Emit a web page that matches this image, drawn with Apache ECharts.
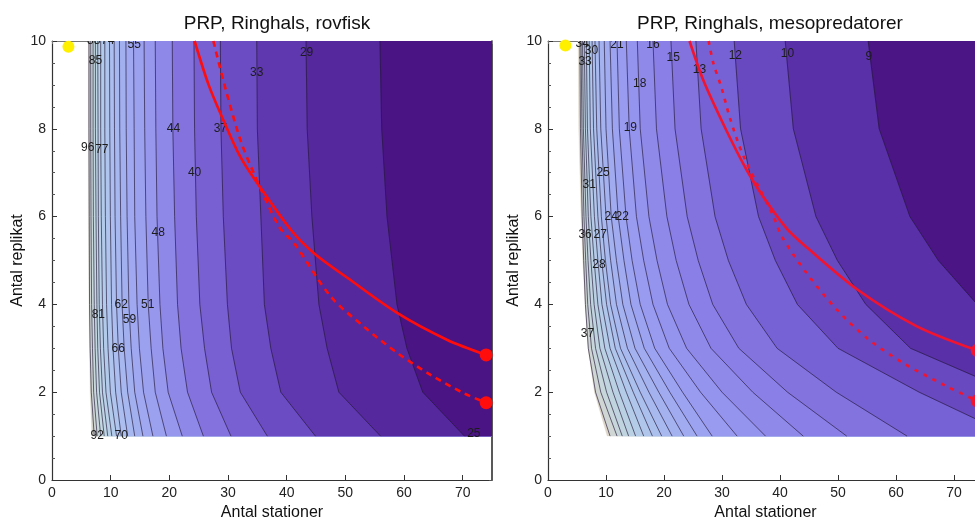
<!DOCTYPE html>
<html><head><meta charset="utf-8">
<script src="https://cdn.jsdelivr.net/npm/echarts@6/dist/echarts.min.js"></script>
<style>html,body{margin:0;padding:0;background:#fff}#c{width:975px;height:521px}</style>
</head><body><div id="c"></div>
<script>
// ---------- data: left panel (rovfisk) ----------
const leftY = [10, 8, 6, 4, 3, 2, 1];
const leftLevels = [96, 92, 88, 85, 81, 77, 74, 70, 66, 62, 59, 55, 51, 48, 44, 40, 37, 33, 29, 25];
// x of each contour at the heights in leftY
const leftContours = [
  [6.3, 6.3, 6.35, 6.4, 6.5, 6.7, 7.2],
  [6.6, 6.6, 6.65, 6.75, 6.9, 7.1, 7.7],
  [7.0, 7.0, 7.05, 7.2, 7.35, 7.6, 8.3],
  [7.4, 7.4, 7.5, 7.65, 7.8, 8.1, 8.9],
  [7.8, 7.85, 7.9, 8.05, 8.25, 8.6, 9.5],
  [8.3, 8.3, 8.4, 8.6, 8.8, 9.2, 10.2],
  [9.0, 9.0, 9.1, 9.3, 9.55, 9.95, 11.0],
  [9.8, 9.85, 9.95, 10.15, 10.4, 10.85, 11.8],
  [10.6, 10.65, 10.75, 11.0, 11.3, 11.8, 12.9],
  [11.5, 11.55, 11.7, 11.95, 12.3, 12.9, 14.1],
  [12.6, 12.65, 12.8, 13.1, 13.5, 14.1, 15.5],
  [13.9, 14.0, 14.1, 14.5, 14.9, 15.6, 17.2],
  [15.7, 15.8, 16.0, 16.4, 16.9, 17.6, 19.5],
  [17.6, 17.7, 17.9, 18.4, 18.9, 19.8, 22.2],
  [20.5, 20.6, 20.9, 21.4, 22.0, 23.1, 25.8],
  [24.2, 24.3, 24.6, 25.2, 26.0, 27.2, 30.5],
  [28.7, 28.8, 29.2, 29.9, 30.6, 32.1, 36.7],
  [34.9, 35.0, 35.6, 36.2, 37.3, 39.0, 44.9],
  [43.3, 43.5, 44.3, 45.5, 46.9, 48.9, 56.0],
  [55.9, 56.2, 57.1, 58.8, 60.5, 63.2, 70.3]
];
const leftEdge = [6.2, 6.2, 6.2, 6.3, 6.4, 6.5, 6.8];
const leftLabels = [
  ['88', 7.1, 10.0], ['74', 9.5, 10.0], ['55', 14.0, 9.92], ['85', 7.4, 9.55],
  ['96', 6.1, 7.56], ['77', 8.5, 7.52], ['44', 20.7, 8.0], ['37', 28.7, 8.0],
  ['40', 24.3, 7.0], ['48', 18.1, 5.64], ['33', 34.9, 9.27], ['29', 43.4, 9.74],
  ['81', 7.9, 3.76], ['62', 11.8, 4.0], ['59', 13.2, 3.66], ['51', 16.3, 3.99],
  ['66', 11.3, 2.99], ['92', 7.7, 1.0], ['70', 11.8, 1.0], ['25', 71.9, 1.05]
];
const leftSolid = [[24.3, 10], [26.7, 9], [29.2, 8.2], [32.1, 7.36], [35, 6.76], [40.7, 5.7], [44.7, 5.16], [50.4, 4.6], [58.9, 3.8], [67.4, 3.19], [74, 2.85]];
const leftDashed = [[27.5, 10], [29.6, 8.9], [32.1, 7.75], [34.4, 6.99], [38.7, 5.77], [41.3, 5.39], [47.5, 4.18], [53.2, 3.49], [58.9, 2.89], [64.6, 2.39], [70.3, 1.97], [74, 1.76]];
const leftEndPoints = [[74, 2.85], [74, 1.76]];
const leftYellow = [[2.8, 9.87]];

// ---------- data: right panel (mesopredatorer) ----------
const rightY = [10, 8, 6, 5, 4, 3, 2, 1];
const rightLevels = [37, 36, 34, 33, 31, 30, 28, 27, 25, 24, 22, 21, 19, 18, 16, 15, 13, 12, 10, 9];
const rightContours = [
  [5.5, 5.6, 5.9, 6.15, 6.45, 6.95, 8.2, 10.7],
  [5.7, 5.85, 6.2, 6.5, 6.85, 7.5, 9.1, 11.9],
  [5.95, 6.1, 6.55, 6.9, 7.35, 8.2, 10.1, 12.8],
  [6.25, 6.45, 6.95, 7.4, 7.95, 8.95, 11.2, 13.9],
  [6.6, 6.8, 7.4, 7.95, 8.6, 9.8, 12.3, 15.1],
  [7.1, 7.3, 8.0, 8.6, 9.3, 10.7, 13.5, 16.5],
  [7.6, 7.85, 8.6, 9.25, 10.1, 11.6, 14.7, 18.0],
  [8.1, 8.4, 9.2, 9.9, 10.8, 12.5, 15.9, 19.6],
  [8.8, 9.1, 10.0, 10.8, 11.8, 13.7, 17.4, 21.4],
  [9.7, 10.0, 10.9, 11.8, 12.9, 15.0, 19.1, 23.4],
  [10.7, 11.1, 12.1, 13.1, 14.3, 16.6, 21.0, 25.7],
  [11.9, 12.3, 13.45, 14.5, 15.9, 18.4, 23.2, 28.3],
  [13.5, 14.0, 15.25, 16.5, 18.1, 20.9, 26.3, 32.6],
  [15.4, 15.9, 17.4, 18.8, 20.6, 23.9, 30.0, 37.5],
  [18.1, 18.7, 20.5, 22.1, 24.3, 28.1, 35.3, 44.0],
  [21.2, 21.9, 24.0, 25.9, 28.4, 32.9, 41.3, 51.5],
  [25.5, 26.4, 28.8, 31.1, 34.2, 39.5, 49.7, 61.9],
  [32.1, 33.2, 36.3, 39.2, 43.0, 50.0, 64.0, 80.0],
  [40.9, 42.3, 46.2, 49.9, 54.8, 62.5, 80.0, 100.0],
  [55.2, 57.1, 62.4, 67.3, 74.0, 86.0, 108.0, 135.0]
];
const rightEdge = [5.2, 5.3, 5.7, 6.0, 6.4, 6.9, 8.0, 10.2];
const rightLabels = [
  ['34', 5.9, 9.95], ['30', 7.5, 9.79], ['33', 6.4, 9.54], ['21', 11.9, 9.92],
  ['16', 18.1, 9.92], ['15', 21.6, 9.63], ['13', 26.1, 9.35], ['12', 32.3, 9.67],
  ['10', 41.3, 9.7], ['9', 55.3, 9.65], ['18', 15.8, 9.03], ['19', 14.2, 8.03],
  ['25', 9.5, 7.0], ['31', 7.1, 6.73], ['24', 10.9, 6.0], ['22', 12.8, 6.0],
  ['36', 6.4, 5.59], ['27', 9.0, 5.59], ['28', 8.8, 4.9], ['37', 6.8, 3.33]
];
const rightSolid = [[24.4, 10], [26.8, 9.1], [30.8, 7.95], [34.3, 7.05], [37.1, 6.45], [41.2, 5.72], [44.6, 5.3], [53.2, 4.35], [63.6, 3.5], [74, 2.95]];
const rightDashed = [[27.7, 10], [28.5, 9.5], [30, 8.9], [31.4, 8.23], [33.7, 7.38], [38.9, 6.0], [40.3, 5.55], [44.6, 4.71], [49.8, 3.88], [55, 3.23], [61.3, 2.66], [68.2, 2.17], [74, 1.8]];
const rightEndPoints = [[74, 2.95], [74, 1.8]];
const rightYellow = [[3.0, 9.9]];

const xTicks = [0, 10, 20, 30, 40, 50, 60, 70];
const yTicks = [0, 2, 4, 6, 8, 10];

// ---------- styles ----------
const palette = ['#d3d2c8', '#cfd6d4', '#c9d8da', '#c3d8e0', '#bdd5e5', '#b8d1e8', '#b3cbeb', '#afc5ed', '#abbeef', '#a7b7f0',
  '#a3b0f0', '#9fa8f0', '#9ba0ef', '#9697ed', '#8e88e8', '#8473de', '#785fd2', '#6c4cc3', '#5f37ae', '#55289e', '#4a1484'];
const paletteR = ['#dcd5c8', '#cfd6d4', '#c7d6da', '#c0d4df', '#bad1e4', '#b5cce8', '#b0c6eb', '#acc0ed', '#a8b9ef', '#a4b2f0',
  '#a0abf0', '#9ca3f0', '#989bef', '#9493ed', '#8f8aea', '#897fe6', '#8273df', '#7662d4', '#6849bf', '#5a30a8', '#4b1586'];
const FONT = '"Liberation Sans", Arial, sans-serif';
const XFAR = 300;

function bandSeries(ax, contours, ys, edge, colors) {
  return {
    type: 'custom', xAxisIndex: ax, yAxisIndex: ax, clip: true, silent: true, z: 1,
    data: colors.map((c, i) => [i]),
    renderItem: function (params, api) {
      const i = params.dataIndex;
      const xs = i === 0 ? edge : contours[i - 1];
      const pts = xs.map((x, j) => api.coord([x, ys[j]]));
      pts.push(api.coord([XFAR, ys[ys.length - 1]]));
      pts.push(api.coord([XFAR, ys[0]]));
      return { type: 'polygon', shape: { points: pts }, style: { fill: colors[i], stroke: colors[i], lineWidth: 0.3 } };
    }
  };
}
function lineSeries(ax, contours, ys) {
  return {
    type: 'custom', xAxisIndex: ax, yAxisIndex: ax, clip: true, silent: true, z: 2,
    data: contours.map((c, i) => [i]),
    renderItem: function (params, api) {
      const xs = contours[params.dataIndex];
      const pts = xs.map((x, j) => api.coord([x, ys[j]]));
      return { type: 'polyline', shape: { points: pts }, style: { fill: null, stroke: 'rgba(35,25,55,0.72)', lineWidth: 0.9 } };
    }
  };
}
function labelSeries(ax, labels) {
  return {
    type: 'custom', xAxisIndex: ax, yAxisIndex: ax, clip: true, silent: true, z: 3,
    data: labels.map((l, i) => [i]),
    renderItem: function (params, api) {
      const l = labels[params.dataIndex];
      const p = api.coord([l[1], l[2]]);
      return { type: 'text', x: p[0], y: p[1], style: { text: l[0], align: 'center', verticalAlign: 'middle', fill: '#1c1c1c', font: '12px ' + FONT } };
    }
  };
}
function curve(ax, pts, color, dashed) {
  return {
    type: 'line', xAxisIndex: ax, yAxisIndex: ax, data: pts, smooth: 0.3, showSymbol: false, silent: true, z: 4,
    clip: false,
    lineStyle: { color: color, width: 2.6, type: dashed ? dashed : 'solid' }
  };
}
function dots(ax, pts, color, size) {
  return { type: 'scatter', xAxisIndex: ax, yAxisIndex: ax, data: pts, symbolSize: size, clip: false, silent: true, z: 5,
    itemStyle: { color: color, opacity: 1 } };
}
function mainX(grid) {
  return {
    type: 'value', gridIndex: grid, min: 0, max: 75, interval: 10, position: 'bottom',
    axisLine: { show: true, onZero: false, lineStyle: { color: '#333', width: 1.2 } },
    axisTick: { show: true, inside: true, length: 5, lineStyle: { color: '#333' } },
    axisLabel: { show: true, margin: 6, fontSize: 14, color: '#222', fontFamily: FONT, showMaxLabel: false,
      formatter: v => (xTicks.indexOf(v) >= 0 ? String(v) : '') },
    splitLine: { show: false },
    name: 'Antal stationer', nameLocation: 'middle', nameGap: 25,
    nameTextStyle: { fontSize: 16, color: '#111', fontFamily: FONT }
  };
}
function frameX(grid) {
  return {
    type: 'value', gridIndex: grid, min: 0, max: 75, interval: 10, position: 'top',
    axisLine: { show: true, onZero: false, lineStyle: { color: '#777', width: 1 } },
    axisTick: { show: true, inside: true, length: 3, lineStyle: { color: '#777' } },
    axisLabel: { show: false }, splitLine: { show: false }
  };
}
function mainY(grid) {
  return {
    type: 'value', gridIndex: grid, min: 0, max: 10, interval: 2, position: 'left',
    axisLine: { show: true, onZero: false, lineStyle: { color: '#333', width: 1.2 } },
    axisTick: { show: true, inside: true, length: 5, lineStyle: { color: '#333' } },
    minorTick: { show: true, splitNumber: 4, length: 3, lineStyle: { color: '#555' } },
    axisLabel: { show: true, margin: 6, fontSize: 14, color: '#222', fontFamily: FONT,
      formatter: v => (yTicks.indexOf(v) >= 0 ? String(v) : '') },
    splitLine: { show: false },
    name: 'Antal replikat', nameLocation: 'middle', nameGap: 26, nameRotate: 90,
    nameTextStyle: { fontSize: 16, color: '#111', fontFamily: FONT }
  };
}
function frameY(grid) {
  return {
    type: 'value', gridIndex: grid, min: 0, max: 10, interval: 2, position: 'right',
    axisLine: { show: true, onZero: false, lineStyle: { color: '#222', width: 1.5 } },
    axisTick: { show: true, inside: true, length: 3, lineStyle: { color: '#555' } },
    axisLabel: { show: false }, splitLine: { show: false }
  };
}

const chart = echarts.init(document.getElementById('c'), null, { renderer: 'canvas' });
chart.setOption({
  animation: false,
  backgroundColor: '#ffffff',
  title: [
    { text: 'PRP, Ringhals, rovfisk', left: 272, top: 9, textAlign: 'center',
      textStyle: { fontSize: 19, fontWeight: 'normal', color: '#111', fontFamily: FONT } },
    { text: 'PRP, Ringhals, mesopredatorer', left: 765, top: 9, textAlign: 'center',
      textStyle: { fontSize: 19, fontWeight: 'normal', color: '#111', fontFamily: FONT } }
  ],
  grid: [
    { left: 52, top: 41, width: 440, height: 439, outerBoundsMode: 'none', containLabel: false },
    { left: 548, top: 41, width: 435, height: 439, outerBoundsMode: 'none', containLabel: false }
  ],
  xAxis: [mainX(0), frameX(0), mainX(1), frameX(1)],
  yAxis: [mainY(0), frameY(0), mainY(1), frameY(1)],
  series: [
    bandSeries(0, leftContours, leftY, leftEdge, palette),
    lineSeries(0, leftContours, leftY),
    labelSeries(0, leftLabels),
    curve(0, leftSolid, '#ff0d0d', null),
    curve(0, leftDashed, '#ff0d0d', [6, 5]),
    dots(0, leftEndPoints, '#ff0d0d', 13),
    dots(0, leftYellow, '#fff000', 12),
    bandSeries(2, rightContours, rightY, rightEdge, paletteR),
    lineSeries(2, rightContours, rightY),
    labelSeries(2, rightLabels),
    curve(2, rightSolid, '#f2142e', null),
    curve(2, rightDashed, '#f2142e', [4, 6]),
    dots(2, rightEndPoints, '#f2142e', 13),
    dots(2, rightYellow, '#fff000', 12)
  ]
});
</script>
</body></html>
